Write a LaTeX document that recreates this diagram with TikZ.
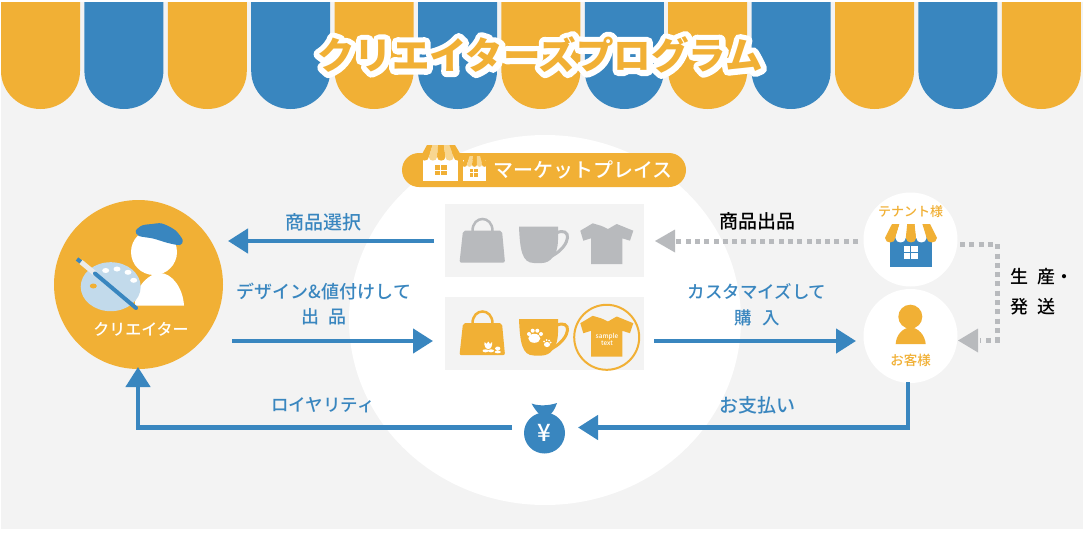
\documentclass[tikz,border=0pt]{standalone}
\usepackage{fontspec}
\usepackage{xcolor}
\setmainfont{Noto Sans CJK JP Medium}
\newfontfamily\titlefill{Noto Sans CJK JP Black}
\newfontfamily\titleline[FakeBold=30]{Noto Sans CJK JP Black}
\usetikzlibrary{arrows.meta}
\definecolor{shopblue}{HTML}{3986BF}
\definecolor{shoporange}{HTML}{F1B035}
\definecolor{backgray}{HTML}{F3F3F3}
\definecolor{itemgray}{HTML}{B8BABD}
\definecolor{palette}{HTML}{C2DAEB}
\definecolor{paleorange}{HTML}{F8D690}
\tikzset{
  bluearrow/.style={draw=shopblue,line width=4.5pt,-{Triangle[length=20pt,width=24pt]}},
  dotarrow/.style={draw=itemgray,line width=5pt,dash pattern=on 5pt off 4.3pt},
  grayhead/.style={fill=itemgray,draw=none},
  bluelabel/.style={text=shopblue,font=\fontsize{18}{25}\selectfont,align=center,inner sep=0pt},
  blacklabel/.style={text=black,font=\fontsize{18}{30}\selectfont,align=left,inner sep=0pt},
  orangelabel/.style={text=shoporange,font=\fontsize{13.5}{15}\selectfont,inner sep=0pt},
  whitelabel/.style={text=white,inner sep=0pt},
  shelfbox/.style={fill=backgray,minimum width=199pt,minimum height=73pt,inner sep=0pt},
  roundnode/.style={circle,fill=white,minimum size=94pt,inner sep=0pt},
}
% five awning stripes: top y, bottom y, top left, top step, bottom left, bottom step, two colours
\newcommand{\stripes}[8]{
    \foreach \i in {0,...,4} {
        \pgfmathtruncatemacro{\odd}{mod(\i,2)}
        \ifnum\odd=0 \def\col{#7}\else\def\col{#8}\fi
        \pgfmathsetmacro{\tl}{#3+\i*#4}
        \pgfmathsetmacro{\bl}{#5+\i*#6}
        \fill[\col] (\tl,#1) -- (\tl+#4,#1) -- (\bl+#6,#2-#6*.5)
            .. controls (\bl+#6,#2+#6*.1) and (\bl,#2+#6*.1) .. (\bl,#2-#6*.5) -- cycle;
    }
}
\begin{document}
\begin{tikzpicture}[x=1pt,y=-1pt]

    \useasboundingbox (0,0) rectangle (1087,533);
    \fill[white] (0,0) rectangle (1087,533);
    \fill[backgray] (1,2) rectangle (1083,529);

    % Awning along the top
    \foreach \n in {0,...,12} {
        \pgfmathsetmacro{\sx}{1+83.4*\n}
        \pgfmathtruncatemacro{\odd}{mod(\n,2)}
        \ifnum\odd=0 \def\col{shoporange}\else\def\col{shopblue}\fi
        \fill[\col] (\sx,2) -- (\sx,71)
            .. controls (\sx,92) and (\sx+18,109) .. (\sx+39.5,109)
            .. controls (\sx+61,109) and (\sx+79,92) .. (\sx+79,71)
            -- (\sx+79,2) -- cycle;
    }

    % Title, white outline first
    \begin{scope}[line join=round]
    \node[text=white,font=\titleline\fontsize{37.5}{37.5}\selectfont,inner sep=0pt] (titleback) at (540,55) {クリエイターズプログラム};
    \end{scope}
    \node[text=shoporange,font=\titlefill\fontsize{37.5}{37.5}\selectfont,inner sep=0pt] (title) at (540,55) {クリエイターズプログラム};

    % Big white shape in the middle
    \fill[white] (545,320) ellipse[x radius=196,y radius=185];

    % Market label
    \node[fill=shoporange,rounded corners=17pt,minimum width=284pt,minimum height=34pt,inner sep=0pt] (market) at (544,170) {};
    \node[whitelabel,font=\fontsize{20}{20}\selectfont] (marketname) at (583,170) {マーケットプレイス};

    % Big shop
    \fill[white] (423,155) rectangle (458,181);
    \stripes{145}{161}{427}{5.6}{420.5}{8.3}{shoporange}{paleorange}
    \fill[shoporange] (434.5,165) rectangle (446.5,175);
    \draw[white,line width=1pt] (440.5,165) -- (440.5,175) (434.5,170) -- (446.5,170);

    % Small shop
    \fill[white] (463,160) rectangle (486,181);
    \stripes{156}{167}{466}{3.6}{462}{5}{shoporange}{paleorange}
    \fill[shoporange] (469.5,168.5) rectangle (478,177);
    \draw[white,line width=.8pt] (473.7,168.5) -- (473.7,177) (469.5,172.7) -- (478,172.7);

    % Shelves with goods
    \node[shelfbox] (grayshelf) at (544.5,240.5) {};
    \node[shelfbox] (orangeshelf) at (544.5,333.5) {};

    \foreach \dy/\col in {0/itemgray,92.5/shoporange} {
        % bag
        \draw[\col,line width=2.5pt] (472.5,231+\dy) .. controls (472.5,215+\dy) and (492.5,215+\dy) .. (492.5,231+\dy);
        \fill[\col,rounded corners=2pt] (463,230.7+\dy) -- (502,230.7+\dy) -- (505,262.7+\dy) -- (459.5,262.7+\dy) -- cycle;
        % mug
        \draw[\col,line width=3pt] (556,233+\dy) .. controls (572,226+\dy) and (572,245+\dy) .. (552,256+\dy);
        \fill[\col] (519,226.7+\dy) -- (558,226.7+\dy) -- (558,240+\dy)
            .. controls (558,255+\dy) and (550,263+\dy) .. (542,263+\dy)
            -- (534,263+\dy) .. controls (522,263+\dy) and (520,250+\dy) .. (519,226.7+\dy) -- cycle;
        % shirt
        \fill[\col] (592.7,223.3+\dy) -- (601.7,226+\dy) -- (608,229+\dy) -- (616.7,224+\dy) -- (633.3,230.7+\dy)
            -- (630,240.7+\dy) -- (622.3,238.3+\dy) -- (622.3,264+\dy) -- (591,264+\dy)
            -- (591,238.3+\dy) -- (583.3,240.7+\dy) -- (580.3,230.7+\dy) -- cycle;
    }

    % Tulips on the bag
    \fill[white] (484.5,342) -- (486.5,344) -- (488.3,341.5) -- (490,344) -- (492,342)
        .. controls (492.5,346) and (491,349) .. (488.3,349) .. controls (485.5,349) and (484,346) .. (484.5,342) -- cycle;
    \fill[white] (485.5,350.8) ellipse[x radius=3,y radius=1.5] (491,350.8) ellipse[x radius=3,y radius=1.5];
    \fill[white] (497.7,348.5) ellipse[x radius=2.6,y radius=2] (497.7,352) ellipse[x radius=3.2,y radius=1.3];

    % Paws on the mug
    \fill[white] (534.3,338.3) ellipse[x radius=6,y radius=4.5];
    \fill[white] (529,334) circle[radius=2] (532.7,330.7) circle[radius=2] (537.3,330.7) circle[radius=2] (541,334) circle[radius=2];
    \fill[white] (547,344.5) ellipse[x radius=3,y radius=2.6];
    \fill[white] (544,341.5) circle[radius=1] (546.5,340) circle[radius=1] (549,340.5) circle[radius=1] (550.7,342.5) circle[radius=1];

    % Ring and text on the shirt
    \draw[shoporange,line width=2pt] (606.7,337.3) circle[radius=32.5];
    \node[whitelabel,font=\itshape\fontsize{6.5}{6}\selectfont,align=center] (sample) at (607,339) {sample\\text};

    % Creator
    \node[circle,fill=shoporange,minimum size=169pt,inner sep=0pt] (creator) at (138.5,284.5) {};
    \fill[white] (154,252) circle[radius=23];
    \fill[white] (135,305.5) .. controls (135,285) and (150,273) .. (160,273)
        .. controls (172,273) and (183,288) .. (184,305.5) -- cycle;
    \fill[shopblue] plot[smooth cycle] coordinates {(135.7,231) (142,225.5) (152,224) (162,223.5) (175,230) (182.7,240) (180,245) (168,243) (153,238.5) (139,236)};
    \fill[palette] (110.7,286.7) ellipse[x radius=30,y radius=24.5];
    \fill[white] (105.7,270.5) ellipse[x radius=3.5,y radius=2.5] (117,269) ellipse[x radius=3.5,y radius=2.5]
        (128,272.3) ellipse[x radius=3.5,y radius=2.5] (133.7,280.3) ellipse[x radius=3.5,y radius=2.5];
    \fill[shoporange] (93.3,286) ellipse[x radius=3.5,y radius=2.5];
    \draw[shopblue,line width=4pt] (77,259) -- (81,262);
    \draw[black!8,line width=5pt] (81,262) -- (95,273.5);
    \draw[shopblue,line width=4pt,line cap=round] (95,273.5) -- (136,308);
    \node[whitelabel,font=\fontsize{16}{16}\selectfont] (creatorname) at (141,329) {クリエイター};

    % Tenant
    \node[roundnode] (tenant) at (910.5,239.5) {};
    \node[orangelabel,font=\fontsize{13}{13}\selectfont] (tenantname) at (910.5,212) {テナント様};
    \fill[shopblue] (890,236) rectangle (932,267);
    \stripes{224}{243}{892}{7.6}{885}{10.4}{shoporange}{white}
    \fill[white] (904,246) rectangle (917.5,259);
    \draw[shopblue,line width=.8pt] (910.7,246) -- (910.7,259) (904,252.5) -- (917.5,252.5);

    % Customer
    \node[roundnode] (customer) at (910.5,336) {};
    \node[orangelabel] (customername) at (910.5,360) {お客様};
    \fill[shoporange] (910.3,316.7) circle[radius=12];
    \fill[shoporange] (895.7,344) .. controls (896,335) and (903,327.5) .. (910.5,327.5)
        .. controls (918,327.5) and (925,335) .. (925.7,344) -- cycle;

    % Money bag
    \node[circle,fill=shopblue,minimum size=41pt,inner sep=0pt,text=white,font=\fontsize{24}{24}\selectfont] (moneybag) at (544.5,433) {¥};
    \fill[shopblue] (531.5,403.5) .. controls (538,406) and (548,406) .. (557,403)
        .. controls (555,409) and (552,414) .. (549,415) -- (540,415) .. controls (537,412) and (534,408) .. (531.5,403.5) -- cycle;

    % Free ends of the connectors
    \coordinate (pickstart) at (434,241);
    \coordinate (pickend) at (228,241);
    \coordinate (designstart) at (232,341);
    \coordinate (designend) at (433,341);
    \coordinate (buystart) at (654,341);
    \coordinate (buyend) at (856,341);
    \coordinate (paystart) at (908,382);
    \coordinate (paycorner) at (908,427.5);
    \coordinate (payend) at (578,427.5);
    \coordinate (royalstart) at (512,427.5);
    \coordinate (royalcorner) at (138,427.5);
    \coordinate (royalend) at (138,367);
    \coordinate (listend) at (675,241);
    \coordinate (listtip) at (655,241);
    \coordinate (listbase) at (858,241);
    \coordinate (shipstart) at (960,244);
    \coordinate (shipcorner) at (997,244);
    \coordinate (shipdown) at (997,340);
    \coordinate (shipend) at (980,340);
    \coordinate (shiptip) at (958,340.5);

    % Blue arrows
    \draw[bluearrow] (pickstart) -- (pickend);
    \draw[bluearrow] (designstart) -- (designend);
    \draw[bluearrow] (buystart) -- (buyend);
    \draw[bluearrow,line join=miter] (paystart) -- (paycorner) -- (payend);
    \draw[bluearrow,line join=miter] (royalstart) -- (royalcorner) -- (royalend);

    % Dotted gray arrows
    \draw[dotarrow] (listbase) -- (listend);
    \fill[grayhead] (listtip) -- (675,229.5) -- (675,252.5) -- cycle;
    \draw[dotarrow] (shipstart) -- (shipcorner) -- (shipdown) -- (shipend);
    \fill[grayhead] (shiptip) -- (978,328.5) -- (978,352.5) -- cycle;

    % Labels
    \node[bluelabel,font=\fontsize{19}{19}\selectfont] (picklabel) at (323.5,222) {商品選択};
    \node[bluelabel] (designlabel) at (324,304.5) {デザイン\&値付けして\\出\hspace{.5em}品};
    \node[bluelabel,font=\fontsize{17.5}{26}\selectfont] (buylabel) at (757,304.5) {カスタマイズして\\購\hspace{.6em}入};
    \node[bluelabel,font=\fontsize{17.5}{18}\selectfont] (royallabel) at (323,405) {ロイヤリティ};
    \node[bluelabel,font=\fontsize{19}{19}\selectfont] (paylabel) at (757.5,405) {お支払い};
    \node[blacklabel,font=\fontsize{19}{19}\selectfont] (listlabel) at (757.5,221) {商品出品};
    \node[blacklabel,anchor=west] (shiplabel) at (1010,292) {生\hspace{.5em}産・\\発\hspace{.5em}送};

\end{tikzpicture}
\end{document}
